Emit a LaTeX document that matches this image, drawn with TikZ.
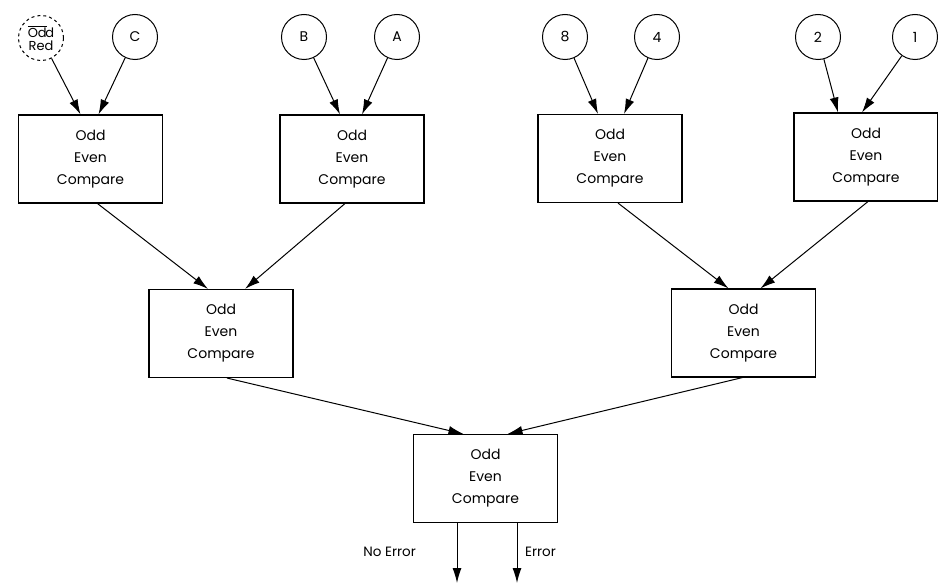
\documentclass[tikz,border=0pt]{standalone}
\usepackage{fontspec}
\setmainfont{Poppins}
\usetikzlibrary{arrows.meta,calc}
\begin{document}
\begin{tikzpicture}[x=1pt,y=-1pt,
  inp/.style={draw,circle,minimum size=45pt,inner sep=0pt,line width=1pt,font=\fontsize{14}{14}\selectfont},
  cmp/.style={draw,rectangle,minimum width=144pt,minimum height=88pt,inner sep=0pt,line width=1.1pt,align=center,font=\fontsize{14}{22}\selectfont},
  conn/.style={line width=1pt,-{Latex[length=15pt,width=9pt]}},
  lbl/.style={font=\fontsize{13.5}{14}\selectfont,inner sep=0pt}]
\useasboundingbox (0,0) rectangle (938,586);
% inputs
\node[inp,dashed,align=center,font=\fontsize{13}{14}\selectfont] (odr) at (41,38) {$\overline{\mbox{Od}}$\kern-0.1em d\\[-1pt]Red};
\node[inp] (c) at (135,37) {C};
\node[inp] (b) at (304,37) {B};
\node[inp] (a) at (397,37) {A};
\node[inp] (n8) at (565,37) {8};
\node[inp] (n4) at (657,37) {4};
\node[inp] (n2) at (818,37) {2};
\node[inp] (n1) at (915,37) {1};
% first level
\node[cmp] (b1) at (90.5,159) {Odd\\Even\\Compare};
\node[cmp] (b2) at (352,159) {Odd\\Even\\Compare};
\node[cmp] (b3) at (610,158.5) {Odd\\Even\\Compare};
\node[cmp] (b4) at (866,157) {Odd\\Even\\Compare};
% second level
\node[cmp] (m1) at (221,333.5) {Odd\\Even\\Compare};
\node[cmp] (m2) at (743.5,333) {Odd\\Even\\Compare};
% third level
\node[cmp] (f) at (485.5,478.5) {Odd\\Even\\Compare};
% arrows from inputs
\draw[conn] (odr) -- ($(b1.north)+(-10,0)$);
\draw[conn] (c) -- ($(b1.north)+(8,0)$);
\draw[conn] (b) -- ($(b2.north)+(-12,0)$);
\draw[conn] (a) -- ($(b2.north)+(10,0)$);
\draw[conn] (n8) -- ($(b3.north)+(-12,0)$);
\draw[conn] (n4) -- ($(b3.north)+(14,0)$);
\draw[conn] (n2) -- ($(b4.north)+(-28,0)$);
\draw[conn] (n1) -- ($(b4.north)+(-4,0)$);
% second level arrows
\draw[conn] ($(b1.south)+(7,0)$) -- ($(m1.north)+(-13,0)$);
\draw[conn] ($(b2.south)+(-7,0)$) -- ($(m1.north)+(24,0)$);
\draw[conn] ($(b3.south)+(8,0)$) -- ($(m2.north)+(-15,0)$);
\draw[conn] ($(b4.south)+(2,0)$) -- ($(m2.north)+(17,0)$);
% third level arrows
\draw[conn] ($(m1.south)+(6,0)$) -- ($(f.north)+(-22,0)$);
\draw[conn] ($(m2.south)+(-1,0)$) -- ($(f.north)+(22,0)$);
% outputs
\coordinate (o1) at (457,583);
\coordinate (o2) at (517,583);
\draw[conn] (f.south -| o1) -- (o1);
\draw[conn] (f.south -| o2) -- (o2);
\node[lbl,anchor=east] (ne) at (416,552) {No Error};
\node[lbl,anchor=west] (er) at (525,552) {Error};
\end{tikzpicture}
\end{document}
